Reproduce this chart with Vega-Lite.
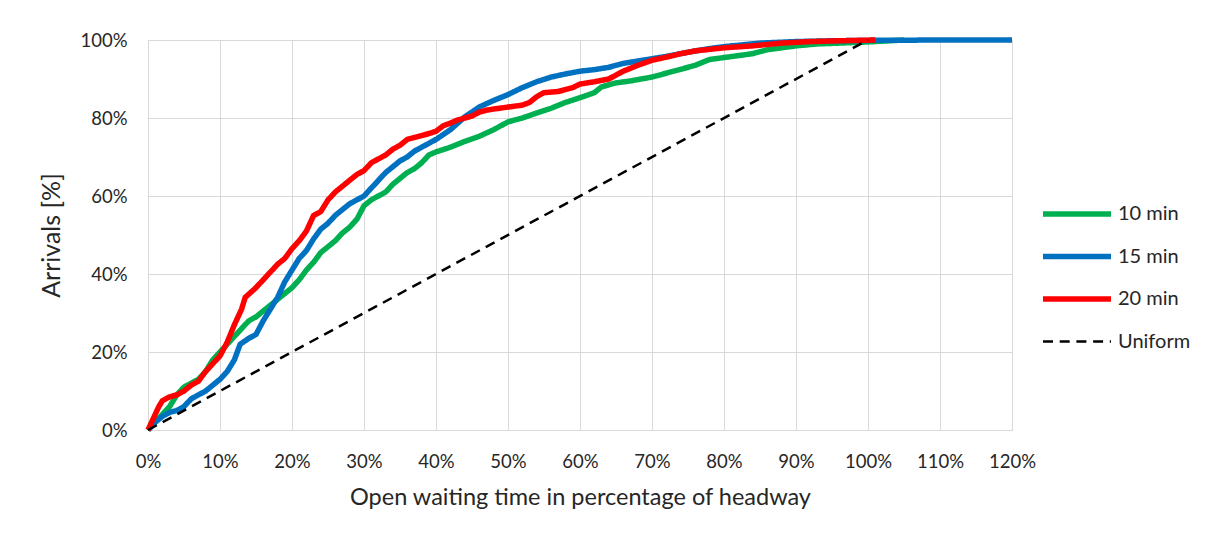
{
  "$schema": "https://vega.github.io/schema/vega-lite/v6.json",
  "width": 864,
  "height": 390,
  "autosize": "none",
  "padding": {"left": 148, "top": 40, "right": 194, "bottom": 106},
  "background": "white",
  "config": {
    "view": {"stroke": "#D9D9D9"},
    "font": "Lato",
    "axis": {"labelFont": "Lato", "titleFont": "Lato", "labelColor": "#262626", "titleColor": "#262626", "titleFontWeight": "normal", "gridColor": "#D9D9D9", "domainColor": "#D9D9D9", "ticks": false, "labelFontSize": 18.5, "labelFlush": false, "labelOverlap": false}
  },
  "data": {
    "values": [
      {"series": "10 min", "x": 0, "y": 0}, {"series": "10 min", "x": 1, "y": 2}, {"series": "10 min", "x": 2, "y": 4}, {"series": "10 min", "x": 3, "y": 6}, {"series": "10 min", "x": 4, "y": 9}, {"series": "10 min", "x": 5, "y": 11}, {"series": "10 min", "x": 6, "y": 12}, {"series": "10 min", "x": 7, "y": 13}, {"series": "10 min", "x": 8, "y": 15}, {"series": "10 min", "x": 9, "y": 18}, {"series": "10 min", "x": 10, "y": 20}, {"series": "10 min", "x": 11, "y": 22}, {"series": "10 min", "x": 12, "y": 24}, {"series": "10 min", "x": 13, "y": 26}, {"series": "10 min", "x": 14, "y": 28}, {"series": "10 min", "x": 15, "y": 29}, {"series": "10 min", "x": 16, "y": 30.5}, {"series": "10 min", "x": 17, "y": 32}, {"series": "10 min", "x": 18, "y": 33.5}, {"series": "10 min", "x": 19, "y": 35}, {"series": "10 min", "x": 20, "y": 36.5}, {"series": "10 min", "x": 21, "y": 38.5}, {"series": "10 min", "x": 22, "y": 41}, {"series": "10 min", "x": 23, "y": 43}, {"series": "10 min", "x": 24, "y": 45.5}, {"series": "10 min", "x": 25, "y": 47}, {"series": "10 min", "x": 26, "y": 48.5}, {"series": "10 min", "x": 27, "y": 50.5}, {"series": "10 min", "x": 28, "y": 52}, {"series": "10 min", "x": 29, "y": 54}, {"series": "10 min", "x": 30, "y": 57.5}, {"series": "10 min", "x": 31, "y": 59}, {"series": "10 min", "x": 32, "y": 60}, {"series": "10 min", "x": 33, "y": 61}, {"series": "10 min", "x": 34, "y": 63}, {"series": "10 min", "x": 35, "y": 64.5}, {"series": "10 min", "x": 36, "y": 66}, {"series": "10 min", "x": 37, "y": 67}, {"series": "10 min", "x": 38, "y": 68.5}, {"series": "10 min", "x": 39, "y": 70.5}, {"series": "10 min", "x": 40, "y": 71.3}, {"series": "10 min", "x": 42, "y": 72.5}, {"series": "10 min", "x": 44, "y": 74}, {"series": "10 min", "x": 46, "y": 75.3}, {"series": "10 min", "x": 48, "y": 77}, {"series": "10 min", "x": 50, "y": 79}, {"series": "10 min", "x": 52, "y": 80}, {"series": "10 min", "x": 54, "y": 81.3}, {"series": "10 min", "x": 56, "y": 82.5}, {"series": "10 min", "x": 58, "y": 84}, {"series": "10 min", "x": 60, "y": 85.2}, {"series": "10 min", "x": 62, "y": 86.5}, {"series": "10 min", "x": 63, "y": 88}, {"series": "10 min", "x": 65, "y": 89}, {"series": "10 min", "x": 67, "y": 89.5}, {"series": "10 min", "x": 70, "y": 90.5}, {"series": "10 min", "x": 72, "y": 91.5}, {"series": "10 min", "x": 74, "y": 92.5}, {"series": "10 min", "x": 76, "y": 93.5}, {"series": "10 min", "x": 78, "y": 95}, {"series": "10 min", "x": 80, "y": 95.5}, {"series": "10 min", "x": 82, "y": 96}, {"series": "10 min", "x": 84, "y": 96.5}, {"series": "10 min", "x": 86, "y": 97.5}, {"series": "10 min", "x": 88, "y": 98}, {"series": "10 min", "x": 90, "y": 98.5}, {"series": "10 min", "x": 93, "y": 99}, {"series": "10 min", "x": 96, "y": 99.2}, {"series": "10 min", "x": 100, "y": 99.5}, {"series": "10 min", "x": 105, "y": 100},
      {"series": "15 min", "x": 0, "y": 0}, {"series": "15 min", "x": 1, "y": 2}, {"series": "15 min", "x": 2, "y": 3.5}, {"series": "15 min", "x": 3, "y": 4.5}, {"series": "15 min", "x": 4, "y": 5}, {"series": "15 min", "x": 5, "y": 6}, {"series": "15 min", "x": 6, "y": 8}, {"series": "15 min", "x": 7, "y": 9}, {"series": "15 min", "x": 8, "y": 10}, {"series": "15 min", "x": 9, "y": 11.5}, {"series": "15 min", "x": 10, "y": 13}, {"series": "15 min", "x": 11, "y": 15}, {"series": "15 min", "x": 12, "y": 18}, {"series": "15 min", "x": 12.8, "y": 22}, {"series": "15 min", "x": 14, "y": 23.5}, {"series": "15 min", "x": 15, "y": 24.5}, {"series": "15 min", "x": 16, "y": 28}, {"series": "15 min", "x": 17, "y": 31}, {"series": "15 min", "x": 18, "y": 34}, {"series": "15 min", "x": 19, "y": 38}, {"series": "15 min", "x": 20, "y": 41}, {"series": "15 min", "x": 21, "y": 44}, {"series": "15 min", "x": 22, "y": 46}, {"series": "15 min", "x": 23, "y": 49}, {"series": "15 min", "x": 24, "y": 51.5}, {"series": "15 min", "x": 25, "y": 53}, {"series": "15 min", "x": 26, "y": 55}, {"series": "15 min", "x": 27, "y": 56.5}, {"series": "15 min", "x": 28, "y": 58}, {"series": "15 min", "x": 29, "y": 59}, {"series": "15 min", "x": 30, "y": 60}, {"series": "15 min", "x": 31, "y": 62}, {"series": "15 min", "x": 32, "y": 64}, {"series": "15 min", "x": 33, "y": 66}, {"series": "15 min", "x": 34, "y": 67.5}, {"series": "15 min", "x": 35, "y": 69}, {"series": "15 min", "x": 36, "y": 70}, {"series": "15 min", "x": 37, "y": 71.5}, {"series": "15 min", "x": 38, "y": 72.5}, {"series": "15 min", "x": 39, "y": 73.5}, {"series": "15 min", "x": 40, "y": 74.5}, {"series": "15 min", "x": 42, "y": 77}, {"series": "15 min", "x": 44, "y": 80.3}, {"series": "15 min", "x": 46, "y": 82.8}, {"series": "15 min", "x": 48, "y": 84.5}, {"series": "15 min", "x": 50, "y": 86}, {"series": "15 min", "x": 52, "y": 87.8}, {"series": "15 min", "x": 54, "y": 89.3}, {"series": "15 min", "x": 56, "y": 90.5}, {"series": "15 min", "x": 58, "y": 91.3}, {"series": "15 min", "x": 60, "y": 92}, {"series": "15 min", "x": 62, "y": 92.4}, {"series": "15 min", "x": 64, "y": 93}, {"series": "15 min", "x": 66, "y": 94}, {"series": "15 min", "x": 68, "y": 94.6}, {"series": "15 min", "x": 70, "y": 95.2}, {"series": "15 min", "x": 72, "y": 95.8}, {"series": "15 min", "x": 74, "y": 96.5}, {"series": "15 min", "x": 76, "y": 97.2}, {"series": "15 min", "x": 78, "y": 97.8}, {"series": "15 min", "x": 80, "y": 98.3}, {"series": "15 min", "x": 85, "y": 99.2}, {"series": "15 min", "x": 90, "y": 99.6}, {"series": "15 min", "x": 95, "y": 99.8}, {"series": "15 min", "x": 100, "y": 99.9}, {"series": "15 min", "x": 110, "y": 100}, {"series": "15 min", "x": 120, "y": 100},
      {"series": "20 min", "x": 0, "y": 0}, {"series": "20 min", "x": 0.5, "y": 2}, {"series": "20 min", "x": 1, "y": 4}, {"series": "20 min", "x": 1.5, "y": 6}, {"series": "20 min", "x": 2, "y": 7.5}, {"series": "20 min", "x": 3, "y": 8.5}, {"series": "20 min", "x": 4, "y": 9}, {"series": "20 min", "x": 5, "y": 10}, {"series": "20 min", "x": 6, "y": 11.5}, {"series": "20 min", "x": 7, "y": 12.5}, {"series": "20 min", "x": 8, "y": 15}, {"series": "20 min", "x": 9, "y": 17}, {"series": "20 min", "x": 10, "y": 19}, {"series": "20 min", "x": 11, "y": 22.5}, {"series": "20 min", "x": 12, "y": 27}, {"series": "20 min", "x": 13, "y": 31}, {"series": "20 min", "x": 13.5, "y": 34}, {"series": "20 min", "x": 15, "y": 36.5}, {"series": "20 min", "x": 16, "y": 38.5}, {"series": "20 min", "x": 17, "y": 40.5}, {"series": "20 min", "x": 18, "y": 42.5}, {"series": "20 min", "x": 19, "y": 44}, {"series": "20 min", "x": 20, "y": 46.5}, {"series": "20 min", "x": 21, "y": 48.5}, {"series": "20 min", "x": 22, "y": 51}, {"series": "20 min", "x": 23, "y": 55}, {"series": "20 min", "x": 24, "y": 56}, {"series": "20 min", "x": 25, "y": 59}, {"series": "20 min", "x": 26, "y": 61}, {"series": "20 min", "x": 27, "y": 62.5}, {"series": "20 min", "x": 28, "y": 64}, {"series": "20 min", "x": 29, "y": 65.5}, {"series": "20 min", "x": 30, "y": 66.5}, {"series": "20 min", "x": 31, "y": 68.5}, {"series": "20 min", "x": 32, "y": 69.5}, {"series": "20 min", "x": 33, "y": 70.5}, {"series": "20 min", "x": 34, "y": 72}, {"series": "20 min", "x": 35, "y": 73}, {"series": "20 min", "x": 36, "y": 74.5}, {"series": "20 min", "x": 37, "y": 75}, {"series": "20 min", "x": 38, "y": 75.5}, {"series": "20 min", "x": 39, "y": 76}, {"series": "20 min", "x": 40, "y": 76.6}, {"series": "20 min", "x": 41, "y": 78}, {"series": "20 min", "x": 42, "y": 78.7}, {"series": "20 min", "x": 43, "y": 79.5}, {"series": "20 min", "x": 44, "y": 80}, {"series": "20 min", "x": 45, "y": 80.5}, {"series": "20 min", "x": 46, "y": 81.5}, {"series": "20 min", "x": 47, "y": 82}, {"series": "20 min", "x": 48, "y": 82.3}, {"series": "20 min", "x": 50, "y": 82.8}, {"series": "20 min", "x": 52, "y": 83.3}, {"series": "20 min", "x": 53, "y": 84}, {"series": "20 min", "x": 54, "y": 85.5}, {"series": "20 min", "x": 55, "y": 86.5}, {"series": "20 min", "x": 57, "y": 86.8}, {"series": "20 min", "x": 59, "y": 87.8}, {"series": "20 min", "x": 60, "y": 88.7}, {"series": "20 min", "x": 62, "y": 89.3}, {"series": "20 min", "x": 64, "y": 90}, {"series": "20 min", "x": 66, "y": 92}, {"series": "20 min", "x": 68, "y": 93.5}, {"series": "20 min", "x": 70, "y": 94.8}, {"series": "20 min", "x": 72, "y": 95.6}, {"series": "20 min", "x": 74, "y": 96.5}, {"series": "20 min", "x": 76, "y": 97.2}, {"series": "20 min", "x": 78, "y": 97.6}, {"series": "20 min", "x": 80, "y": 98}, {"series": "20 min", "x": 84, "y": 98.5}, {"series": "20 min", "x": 88, "y": 99.2}, {"series": "20 min", "x": 92, "y": 99.6}, {"series": "20 min", "x": 96, "y": 99.8}, {"series": "20 min", "x": 101, "y": 100},
      {"series": "Uniform", "x": 0, "y": 0}, {"series": "Uniform", "x": 100, "y": 100}
    ]
  },
  "mark": {"type": "line", "strokeCap": "butt", "strokeJoin": "round"},
  "encoding": {
    "x": {"field": "x", "type": "quantitative", "scale": {"domain": [0, 120], "nice": false},
      "axis": {"values": [0, 10, 20, 30, 40, 50, 60, 70, 80, 90, 100, 110, 120], "labelExpr": "datum.value + '%'", "labelPadding": 22, "titlePadding": 15, "titleFontSize": 23.5, "title": "Open waiting time in percentage of headway"}},
    "y": {"field": "y", "type": "quantitative", "scale": {"domain": [0, 100], "nice": false},
      "axis": {"values": [0, 20, 40, 60, 80, 100], "labelExpr": "datum.value + '%'", "labelPadding": 21, "titlePadding": 15, "titleFontSize": 25, "title": "Arrivals [%]"}},
    "color": {"field": "series", "type": "nominal", "title": null,
      "scale": {"domain": ["10 min", "15 min", "20 min", "Uniform"], "range": ["#00B050", "#0070C0", "#FF0000", "#000000"]},
      "legend": {"orient": "none", "legendX": 892, "legendY": 164, "padding": 0, "symbolType": "stroke", "symbolSize": 4624, "clipHeight": 20, "rowPadding": 22.5, "labelOffset": 4, "labelFont": "Lato", "labelFontSize": 20, "labelColor": "#262626",
        "encode": {"symbols": {"update": {"strokeWidth": {"signal": "(datum.value === 'Uniform' ? 2.5 : 5.5)"}, "strokeCap": {"value": "butt"}}}}}},
    "strokeDash": {"field": "series", "type": "nominal", "title": null,
      "scale": {"domain": ["10 min", "15 min", "20 min", "Uniform"], "range": [[1, 0], [1, 0], [1, 0], [10, 6.7]]}},
    "strokeWidth": {"condition": {"test": "datum.series === 'Uniform'", "value": 2.5}, "value": 5.5}
  }
}
